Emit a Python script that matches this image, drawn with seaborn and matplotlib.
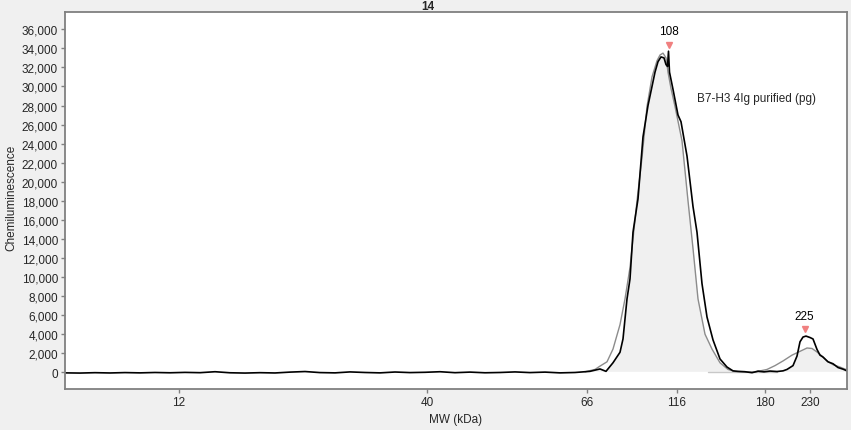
import numpy as np
import pandas as pd
import seaborn as sns
import matplotlib.pyplot as plt
from matplotlib.ticker import FuncFormatter

# x is capillary position (arbitrary units), tick labels are MW in kDa
mw_ticks = [114, 362, 522, 612, 700, 745]
mw_labels = ['12', '40', '66', '116', '180', '230']

# measured trace (black)
trace_pos = [0, 15, 30, 45, 60, 75, 90, 105, 120, 135, 150, 165, 180, 195, 210, 225,
             240, 255, 270, 285, 300, 315, 330, 345, 360, 375, 390, 405, 420, 435, 450,
             465, 480, 495, 510, 525, 535, 541, 548, 555, 558, 562, 565, 568, 573, 578,
             583, 587, 590, 593, 596, 599, 601, 602.5, 603.5, 604.5, 608, 613, 616, 622,
             628, 632, 637, 642, 648, 655, 662, 668, 673, 680, 687, 693, 699, 705, 712,
             718, 722, 728, 732, 735, 738, 741, 745, 748, 752, 755, 758, 763, 768, 773,
             778, 782]
trace_val = [-60, -80, -40, -70, -30, -60, -20, -50, -10, -40, 60, -50, -80, -40, -70,
             20, 80, -30, -60, 40, -20, -60, 30, -30, 0, 60, -40, 20, -50, -20, 40, -30,
             20, -60, -20, 100, 350, 100, 1000, 2100, 3500, 7700, 9800, 14700, 18200,
             24700, 28000, 30000, 31500, 32600, 33100, 33000, 32300, 32100, 33700, 31500,
             29700, 27000, 26300, 22700, 17400, 14700, 9300, 5800, 3400, 1400, 550, 150,
             100, 60, -40, 120, 50, 130, 80, 150, 300, 700, 1700, 3200, 3700, 3800, 3650,
             3500, 2400, 1800, 1600, 1100, 900, 500, 330, 150]

# fitted trace (gray)
fit_pos = [520, 530, 535, 542, 548, 555, 560, 565, 572, 577, 582, 587, 592, 595, 598,
           601, 603, 606, 610, 617, 623, 628, 633, 640, 647, 655, 663, 670, 680, 690,
           702, 710, 718, 727, 735, 742, 747, 752, 757, 762, 768, 775, 782]
fit_val = [50, 300, 650, 1100, 2440, 5000, 7700, 11000, 18000, 22500, 27900, 31000,
           32700, 33300, 33500, 33000, 31500, 29800, 27900, 24300, 18000, 13000, 7700,
           4000, 2440, 1000, 300, 80, 30, 30, 300, 700, 1190, 1800, 2200, 2550, 2500,
           2130, 1700, 1190, 800, 550, 250]

peak_pos = [603.5, 739.5]
peak_val = [33700, 3800]
peak_labels = ['108', '225']

trace = pd.DataFrame({'pos': trace_pos, 'signal': trace_val})
fit = pd.DataFrame({'pos': fit_pos, 'signal': fit_val})

sns.set_theme(style='white')
plt.rcParams['font.family'] = ['Liberation Sans', 'DejaVu Sans']
plt.rcParams['font.size'] = 8.5

fig = plt.figure(figsize=(8.51, 4.31), dpi=100, facecolor='#f0f0f0')
ax = fig.add_axes([65 / 851, 41 / 431, 782 / 851, 377 / 431])
ax.set_facecolor('white')

# shaded area under the fit (limited by the trace)
grid = np.linspace(520, 782, 600)
under = np.minimum(np.interp(grid, fit_pos, fit_val), np.interp(grid, trace_pos, trace_val))
ax.fill_between(grid, 100, np.maximum(under, 100), color='#f0f0f0', lw=0)
ax.plot([643, 712], [60, 60], color='#c8c8c8', lw=1)

sns.lineplot(data=fit, x='pos', y='signal', color='#8c8c8c', lw=1, ax=ax)
sns.lineplot(data=trace, x='pos', y='signal', color='black', lw=1.2, ax=ax)

for p, v, lab in zip(peak_pos, peak_val, peak_labels):
    ax.plot(p, v + 700, marker='v', color='#f08080', ms=5, mec='#f08080')
    ax.text(p, v + 1500, lab, ha='center', va='bottom', fontsize=8.5, color='black')

ax.text(632, 28800, 'B7-H3 4Ig purified (pg)', fontsize=8.5, va='center', ha='left')

ax.set_xlim(0, 782)
ax.set_ylim(-1753, 37815)
ax.set_xticks(mw_ticks)
ax.set_xticklabels(mw_labels)
ax.set_yticks(range(0, 36001, 2000))
ax.yaxis.set_major_formatter(FuncFormatter(lambda v, _: f'{int(v):,}'))
ax.tick_params(axis='both', length=3, width=1, color='#808080', labelsize=8.5,
               pad=2, left=True, bottom=True)
for s in ax.spines.values():
    s.set_color('#808080')
    s.set_linewidth(1.3)

ax.set_xlabel('MW (kDa)', fontsize=8.5, labelpad=4)
ax.set_ylabel('Chemiluminescence', fontsize=8.5)
ax.yaxis.set_label_coords(-0.0614, 0.51)
fig.text(428 / 851, 1 - 1 / 431, '14', ha='center', va='top', fontsize=8.5,
         fontweight='bold')

fig.savefig('out.png', dpi=100, facecolor=fig.get_facecolor())
